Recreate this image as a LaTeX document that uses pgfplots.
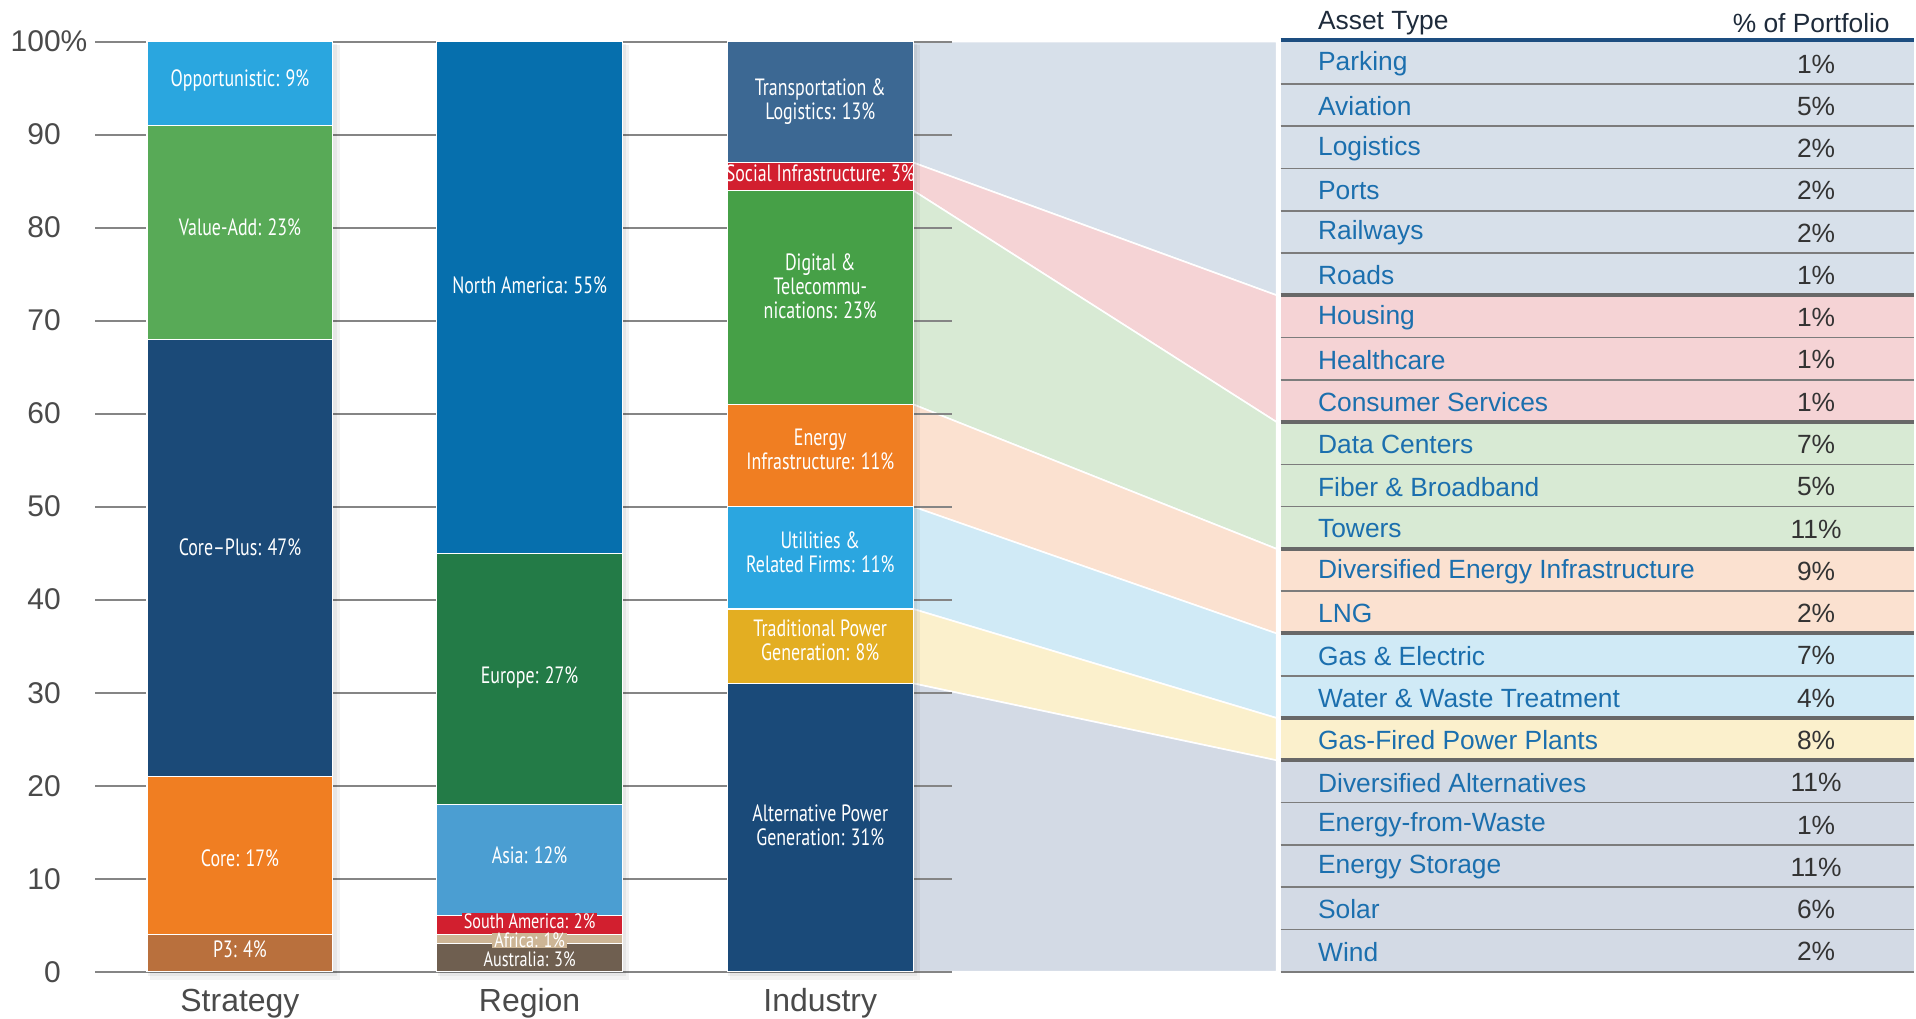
\documentclass[border=0pt]{standalone}
\usepackage{pgfplots}
\pgfplotsset{compat=1.18}
\usepackage{graphicx}
\usepackage{fontspec}
\setmainfont{Liberation Sans}
\newfontfamily\condfont{PT Sans}

% bar colours
\definecolor{cOpp}{HTML}{2AA6DF}
\definecolor{cVal}{HTML}{58AA57}
\definecolor{cCP}{HTML}{1B4A78}
\definecolor{cCore}{HTML}{F07E22}
\definecolor{cP3}{HTML}{B9703D}
\definecolor{cNA}{HTML}{066FAD}
\definecolor{cEU}{HTML}{237B47}
\definecolor{cAS}{HTML}{4B9ED2}
\definecolor{cSA}{HTML}{D21F2F}
\definecolor{cAF}{HTML}{CDB595}
\definecolor{cAU}{HTML}{6F5F50}
\definecolor{cTr}{HTML}{3C6893}
\definecolor{cSo}{HTML}{D21F2F}
\definecolor{cDi}{HTML}{46A047}
\definecolor{cEn}{HTML}{F07E22}
\definecolor{cUt}{HTML}{2BA6E0}
\definecolor{cTd}{HTML}{E3AE22}
\definecolor{cAl}{HTML}{1A4A79}
% light colours (bands and table rows)
\definecolor{lTr}{HTML}{D7E0EA}
\definecolor{lSo}{HTML}{F5D3D5}
\definecolor{lDi}{HTML}{D8EAD4}
\definecolor{lEn}{HTML}{FBE1D0}
\definecolor{lUt}{HTML}{D0EAF6}
\definecolor{lTd}{HTML}{FBF0CC}
\definecolor{lAl}{HTML}{D3DAE5}
% misc
\definecolor{cGrid}{HTML}{858585}
\definecolor{cTick}{HTML}{4A4A4A}
\definecolor{cSep}{HTML}{7C7C7C}
\definecolor{cSepB}{HTML}{686868}
\definecolor{cHead}{HTML}{1D4E80}
\definecolor{cName}{HTML}{1B6FAE}
\definecolor{cVal2}{HTML}{333333}
\definecolor{cHdTxt}{HTML}{1E2B3B}

\newcommand\barlab[1]{\scalebox{0.76}[1]{\condfont\fontsize{11.8}{12}\selectfont\begin{tabular}{@{}c@{}}#1\end{tabular}}}
\newcommand\barlabone[1]{\scalebox{0.78}[1]{\condfont\fontsize{10.4}{11}\selectfont #1}}
\tikzset{blab/.style={text=white, inner sep=0pt}}
% table row: index, asset type, percent
\newcommand\trow[3]{%
  \node[anchor=west, inner sep=0pt, text=cName, font=\fontsize{13.2}{15}\selectfont] at (1319,{100-(#1-0.5)*100/22-0.13}) {#2};
  \node[anchor=center, inner sep=0pt, text=cVal2, font=\fontsize{13.2}{15}\selectfont] at (1818,{100-(#1-0.5)*100/22-0.13}) {#3\%};}

\pgfplotsset{myframe/.style={width=958pt,height=509.5pt,scale only axis,
  xmin=0,xmax=1916,ymin=-4.983,ymax=104.457,clip=false}}

\begin{document}
\begin{tikzpicture}
% ---------- background axis: bands, table, grid, ticks ----------
\begin{axis}[myframe,
  axis line style={draw=none}, major tick length=0pt,
  ytick={0,10,...,100},
  yticklabels={0,10,20,30,40,50,60,70,80,90,100\rlap{\%}},
  yticklabel style={anchor=east, inner sep=0pt, xshift=30.5pt,
     font=\fontsize{15}{17}\selectfont, text=cTick},
  xtick={240,530,821},
  xticklabels={Strategy,Region,Industry},
  xticklabel style={anchor=base, inner sep=0pt, yshift=3.5pt,
     font=\fontsize{16}{18}\selectfont, text=cTick}]
  % connecting bands
  \fill[lTr, draw=white, line width=0.8pt] (914,100) -- (914,87) -- (1278,72.727) -- (1278,100) -- cycle;
  \fill[lSo, draw=white, line width=0.8pt] (914,87) -- (914,84) -- (1278,59.091) -- (1278,72.727) -- cycle;
  \fill[lDi, draw=white, line width=0.8pt] (914,84) -- (914,61) -- (1278,45.455) -- (1278,59.091) -- cycle;
  \fill[lEn, draw=white, line width=0.8pt] (914,61) -- (914,50) -- (1278,36.364) -- (1278,45.455) -- cycle;
  \fill[lUt, draw=white, line width=0.8pt] (914,50) -- (914,39) -- (1278,27.273) -- (1278,36.364) -- cycle;
  \fill[lTd, draw=white, line width=0.8pt] (914,39) -- (914,31) -- (1278,22.727) -- (1278,27.273) -- cycle;
  \fill[lAl, draw=white, line width=0.8pt] (914,31) -- (914,0) -- (1278,0) -- (1278,22.727) -- cycle;
  % table row backgrounds
  \fill[lTr] (1282,72.727) rectangle (1916,100);
  \fill[lSo] (1282,59.091) rectangle (1916,72.727);
  \fill[lDi] (1282,45.455) rectangle (1916,59.091);
  \fill[lEn] (1282,36.364) rectangle (1916,45.455);
  \fill[lUt] (1282,27.273) rectangle (1916,36.364);
  \fill[lTd] (1282,22.727) rectangle (1916,27.273);
  \fill[lAl] (1282,0) rectangle (1916,22.727);
  % row separators
  \pgfplotsinvokeforeach{1,2,3,4,5,7,8,10,11,13,15,18,19,20,21,22}{
    \draw[cSep, line width=0.8pt] (1282,{100-#1*100/22}) -- (1916,{100-#1*100/22});}
  \pgfplotsinvokeforeach{6,9,12,14,16,17}{
    \draw[cSepB, line width=2pt] (1282,{100-#1*100/22}) -- (1916,{100-#1*100/22});}
  \draw[cHead, line width=1.8pt] (1282,100.15) -- (1916,100.15);
  % grid lines
  \pgfplotsinvokeforeach{0,10,...,100}{
    \draw[cGrid, line width=1pt] (95,#1) -- (953,#1);}
  % soft shadows behind the bars
  \pgfplotsinvokeforeach{147,437,728}{
    \fill[black, opacity=0.05] (#1+3,-0.9) rectangle (#1+193,99.6);
    \fill[black, opacity=0.05] (#1+1,-0.5) rectangle (#1+190,99.8);}
  % table text
  \trow{1}{Parking}{1}
  \trow{2}{Aviation}{5}
  \trow{3}{Logistics}{2}
  \trow{4}{Ports}{2}
  \trow{5}{Railways}{2}
  \trow{6}{Roads}{1}
  \trow{7}{Housing}{1}
  \trow{8}{Healthcare}{1}
  \trow{9}{Consumer Services}{1}
  \trow{10}{Data Centers}{7}
  \trow{11}{Fiber \& Broadband}{5}
  \trow{12}{Towers}{11}
  \trow{13}{Diversified Energy Infrastructure}{9}
  \trow{14}{LNG}{2}
  \trow{15}{Gas \& Electric}{7}
  \trow{16}{Water \& Waste Treatment}{4}
  \trow{17}{Gas-Fired Power Plants}{8}
  \trow{18}{Diversified Alternatives}{11}
  \trow{19}{Energy-from-Waste}{1}
  \trow{20}{Energy Storage}{11}
  \trow{21}{Solar}{6}
  \trow{22}{Wind}{2}
  % header
  \node[anchor=west, inner sep=0pt, text=cHdTxt, font=\fontsize{13.2}{15}\selectfont] at (1319,101.95) {Asset Type};
  \node[anchor=east, inner sep=0pt, text=cHdTxt, font=\fontsize{13.2}{15}\selectfont] at (1892,101.95) {\% of Portfolio};
\end{axis}

% ---------- bars ----------
\begin{axis}[myframe, hide axis, ybar stacked, bar width=93pt]
  % Strategy
  \addplot[fill=cP3, draw=white, line width=0.6pt]   coordinates {(240,4)  (530,0) (821,0)};
  \addplot[fill=cCore, draw=white, line width=0.6pt] coordinates {(240,17) (530,0) (821,0)};
  \addplot[fill=cCP, draw=white, line width=0.6pt]   coordinates {(240,47) (530,0) (821,0)};
  \addplot[fill=cVal, draw=white, line width=0.6pt]  coordinates {(240,23) (530,0) (821,0)};
  \addplot[fill=cOpp, draw=white, line width=0.6pt]  coordinates {(240,9)  (530,0) (821,0)};
  % Region
  \addplot[fill=cAU, draw=white, line width=0.6pt] coordinates {(240,0) (530,3)  (821,0)};
  \addplot[fill=cAF, draw=white, line width=0.6pt] coordinates {(240,0) (530,1)  (821,0)};
  \addplot[fill=cSA, draw=white, line width=0.6pt] coordinates {(240,0) (530,2)  (821,0)};
  \addplot[fill=cAS, draw=white, line width=0.6pt] coordinates {(240,0) (530,12) (821,0)};
  \addplot[fill=cEU, draw=white, line width=0.6pt] coordinates {(240,0) (530,27) (821,0)};
  \addplot[fill=cNA, draw=white, line width=0.6pt] coordinates {(240,0) (530,55) (821,0)};
  % Industry
  \addplot[fill=cAl, draw=white, line width=0.6pt] coordinates {(240,0) (530,0) (821,31)};
  \addplot[fill=cTd, draw=white, line width=0.6pt] coordinates {(240,0) (530,0) (821,8)};
  \addplot[fill=cUt, draw=white, line width=0.6pt] coordinates {(240,0) (530,0) (821,11)};
  \addplot[fill=cEn, draw=white, line width=0.6pt] coordinates {(240,0) (530,0) (821,11)};
  \addplot[fill=cDi, draw=white, line width=0.6pt] coordinates {(240,0) (530,0) (821,23)};
  \addplot[fill=cSo, draw=white, line width=0.6pt] coordinates {(240,0) (530,0) (821,3)};
  \addplot[fill=cTr, draw=white, line width=0.6pt] coordinates {(240,0) (530,0) (821,13)};
\end{axis}

% ---------- bar labels ----------
\begin{axis}[myframe, hide axis]
  \node[blab] at (240,95.7) {\barlab{Opportunistic: 9\%}};
  \node[blab] at (240,79.7) {\barlab{Value-Add: 23\%}};
  \node[blab] at (240,45.3) {\barlab{Core\textendash Plus: 47\%}};
  \node[blab] at (240,11.8) {\barlab{Core: 17\%}};
  \node[blab] at (240,2.0)  {\barlab{P3: 4\%}};
  \node[blab] at (530,73.4) {\barlab{North America: 55\%}};
  \node[blab] at (530,31.5) {\barlab{Europe: 27\%}};
  \node[blab] at (530,12.2) {\barlab{Asia: 12\%}};
  \node[blab, fill=cAU, inner xsep=1pt] at (530,1.3) {\barlabone{Australia: 3\%}};
  \node[blab, fill=cAF, inner xsep=1pt] at (530,3.4)  {\barlabone{Africa: 1\%}};
  \node[blab, fill=cSA, inner xsep=1pt] at (530,5.45) {\barlabone{South America: 2\%}};
  \node[blab] at (821,93.4) {\barlab{Transportation \&\\Logistics: 13\%}};
  \node[blab] at (821,85.45) {\barlab{Social Infrastructure: 3\%}};
  \node[blab] at (821,73.3) {\barlab{Digital \&\\Telecommu-\\nications: 23\%}};
  \node[blab] at (821,55.8) {\barlab{Energy\\Infrastructure: 11\%}};
  \node[blab] at (821,44.7) {\barlab{Utilities \&\\Related Firms: 11\%}};
  \node[blab] at (821,35.3) {\barlab{Traditional Power\\Generation: 8\%}};
  \node[blab] at (821,15.4) {\barlab{Alternative Power\\Generation: 31\%}};
\end{axis}
\end{tikzpicture}
\end{document}
